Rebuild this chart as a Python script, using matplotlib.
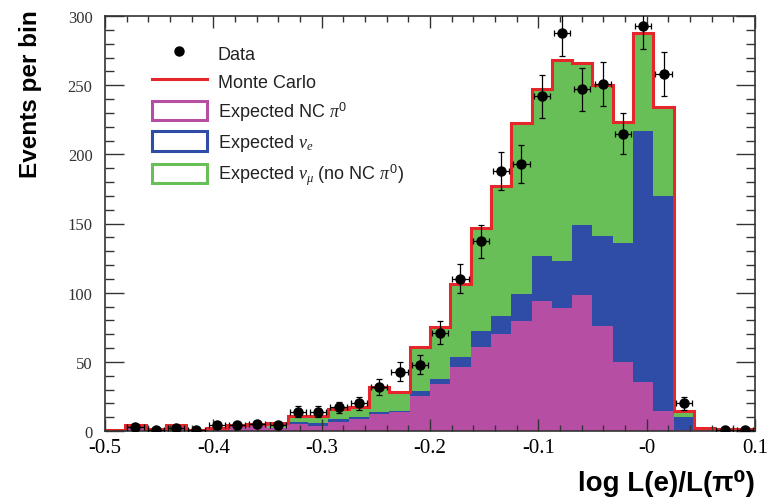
import numpy as np
import matplotlib
matplotlib.use("Agg")
import matplotlib.pyplot as plt
from matplotlib.lines import Line2D
from matplotlib.patches import Patch

# 32 bins of log L(e)/L(pi0) between -0.5 and 0.1
bin_edges = np.linspace(-0.5, 0.1, 33)

# Expected Monte Carlo contributions per bin
nc_pi0 = [0.5, 3.0, 1.0, 3.0, 0.5, 1.5, 3.0, 3.5, 2.0, 5.0, 3.9, 6.8, 8.7, 12.3, 13.5, 25.5,
          34.0, 46.0, 60.5, 70.0, 79.8, 94.2, 88.7, 98.3, 75.7, 49.7, 35.2, 14.7, 0.5, 0.7, 0.5, 0.4]
nu_e = [0.0, 0.3, 0.1, 0.3, 0.1, 0.1, 0.2, 0.2, 0.5, 1.8, 2.1, 1.9, 1.3, 1.2, 1.2, 3.7,
        3.6, 7.3, 12.0, 12.9, 19.2, 32.6, 34.5, 50.7, 65.1, 86.3, 181.5, 155.0, 9.5, 0.3, 0.3, 0.2]
nu_mu = [0.5, 1.3, 0.4, 1.3, 0.2, 0.4, 0.8, 1.1, 3.5, 4.2, 5.0, 7.2, 7.0, 18.1, 13.3, 31.8,
         37.4, 52.7, 74.5, 94.1, 124.0, 120.2, 144.8, 117.0, 109.2, 87.5, 71.3, 64.3, 4.7, 1.0, 0.7, 0.6]

# Observed events per bin
data_counts = [0, 3, 1, 2, 1, 4, 4, 5, 4, 14, 14, 17, 20, 32, 43, 48,
               71, 110, 137, 188, 193, 242, 288, 247, 251, 215, 293, 258, 20, 0, 1, 1]

x_tick_values = [-0.5, -0.4, -0.3, -0.2, -0.1, 0.0, 0.1]
x_tick_labels = ["-0.5", "-0.4", "-0.3", "-0.2", "-0.1", "-0", "0.1"]
y_tick_values = [0, 50, 100, 150, 200, 250, 300]

c_nc = "#B64FA4"
c_nue = "#2F4CA6"
c_numu = "#68BF57"
c_mc = "#E5262B"

plt.rcParams["mathtext.fontset"] = "custom"
plt.rcParams["mathtext.rm"] = "Liberation Sans"
plt.rcParams["mathtext.it"] = "Liberation Serif:italic"

fig = plt.figure(figsize=(7.69, 5.02), dpi=100)
ax = fig.add_axes([105 / 769, 1 - 432 / 502, 650 / 769, 415 / 502])

nc = np.array(nc_pi0)
ne = np.array(nu_e)
nm = np.array(nu_mu)
lvl1 = nc
lvl2 = nc + ne
lvl3 = nc + ne + nm

ax.stairs(lvl1, bin_edges, baseline=0, fill=True, color=c_nc, lw=0)
ax.stairs(lvl2, bin_edges, baseline=lvl1, fill=True, color=c_nue, lw=0)
ax.stairs(lvl3, bin_edges, baseline=lvl2, fill=True, color=c_numu, lw=0)
ax.stairs(lvl3, bin_edges, baseline=None, color=c_mc, lw=2.2)

centers = 0.5 * (bin_edges[:-1] + bin_edges[1:])
width = bin_edges[1] - bin_edges[0]
counts = np.array(data_counts, dtype=float)
shown = counts > 0
ax.errorbar(centers[shown], counts[shown], yerr=np.sqrt(counts[shown]),
            xerr=0.4 * width, fmt="o", color="black", ms=6.5,
            elinewidth=0.9, capsize=2.2, capthick=0.9, zorder=5)

ax.set_xlim(-0.5, 0.1)
ax.set_ylim(0, 300)
ax.set_xticks(x_tick_values)
ax.set_xticklabels(x_tick_labels, fontfamily="Liberation Serif", fontsize=15)
ax.set_yticks(y_tick_values)
ax.set_yticklabels([str(v) for v in y_tick_values], fontfamily="Liberation Serif",
                   fontsize=12, color="#333333")
ax.set_xticks(np.arange(-0.5, 0.1001, 0.02), minor=True)
ax.set_yticks(np.arange(0, 301, 10), minor=True)
ax.tick_params(axis="both", which="both", direction="in", top=True, right=True,
               color="#333333", width=1.0)
ax.tick_params(axis="x", which="major", length=8.6, pad=5)
ax.tick_params(axis="x", which="minor", length=4.3)
ax.tick_params(axis="y", which="major", length=13.5, pad=9)
ax.tick_params(axis="y", which="minor", length=6.8)
for s in ax.spines.values():
    s.set_color("#333333")
    s.set_linewidth(1.2)

fig.text(30 / 769, 1 - 10 / 502, "Events per bin", rotation=90, ha="center", va="top",
         fontfamily="Liberation Sans", fontweight="bold", fontsize=17.5)
fig.text(755 / 769, 1 - 484 / 502, "log L(e)/L(\u03c0\u2070)", ha="right", va="center",
         fontfamily=["Liberation Sans", "DejaVu Sans"], fontweight="bold", fontsize=20)

handles = [
    Line2D([], [], ls="none", marker="o", color="black", ms=6.5),
    Line2D([], [], color=c_mc, lw=2.2),
    Patch(facecolor="none", edgecolor=c_nc, lw=2.2),
    Patch(facecolor="none", edgecolor=c_nue, lw=2.2),
    Patch(facecolor="none", edgecolor=c_numu, lw=2.2),
]
labels = ["Data", "Monte Carlo", r"Expected NC $\pi^0$", r"Expected $\nu_e$",
          r"Expected $\nu_\mu$ (no NC $\pi^0$)"]
ax.legend(handles, labels, loc="upper left", bbox_to_anchor=(0.0718, 0.934),
          frameon=False, borderpad=0, borderaxespad=0, handlelength=3.05,
          handleheight=1.25, labelspacing=0.47, handletextpad=0.6,
          prop={"family": "Liberation Sans", "size": 13}, labelcolor="#222222")

fig.savefig("out.png", dpi=100)
